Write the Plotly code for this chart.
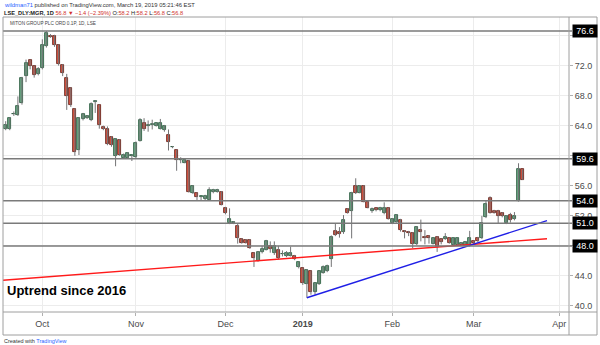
import plotly.graph_objects as go
import pandas as pd

# ---------------- data ----------------
holidays = ['2018-12-25', '2018-12-26', '2019-01-01', '2019-04-19', '2019-04-22']
calendar = [d for d in pd.bdate_range('2018-09-17', '2019-04-30')
            if d.strftime('%Y-%m-%d') not in holidays]

opens = [63.3, 63.5, 63.5, 65.5, 65.4, 67.0, 70.6, 72.7, 71.9, 70.9,
         71.7, 74.6, 76.0, 76.0, 74.7, 72.1, 70.4, 69.0, 66.2, 60.8,
         64.9, 65.0, 64.8, 67.2, 66.7, 63.8, 63.5, 62.5, 60.0, 62.1,
         59.7, 59.7, 60.0, 59.8, 62.0, 64.4, 64.0, 64.1, 64.0, 63.6,
         63.4, 62.8, 61.1, 60.7, 59.4, 59.1, 59.3, 55.0, 55.0, 54.5,
         54.2, 54.1, 55.2, 55.2, 55.2, 53.1, 51.0, 51.0, 50.7, 48.9,
         48.8, 48.8, 47.0, 46.0, 47.2, 47.5, 48.0, 47.0, 47.4, 46.9,
         46.7, 46.7, 46.7, 45.2, 45.0, 42.9, 44.6, 41.8, 42.9, 44.4,
         44.6, 46.2, 50.0, 49.9, 49.8, 52.9, 52.7, 56.0, 55.1, 56.0,
         53.8, 52.6, 53.0, 52.8, 52.4, 53.0, 51.0, 51.2, 51.5, 50.0,
         49.9, 49.7, 48.2, 50.1, 49.2, 49.3, 48.3, 49.2, 48.9, 48.9,
         49.0, 48.1, 48.1, 48.1, 48.0, 48.0, 48.6, 49.1, 49.0, 51.8,
         54.4, 52.7, 52.7, 52.4, 51.0, 52.1, 51.6, 54.0, 58.2]
highs = [63.5, 64.6, 65.1, 65.9, 67.9, 70.5, 72.8, 72.8, 72.0, 71.8,
         75.5, 76.6, 76.2, 76.1, 74.8, 72.2, 70.9, 69.1, 66.3, 65.1,
         65.7, 65.4, 67.1, 67.4, 66.8, 64.0, 63.9, 62.6, 62.3, 62.2,
         60.3, 60.5, 60.1, 61.9, 65.0, 65.0, 64.7, 64.8, 64.4, 64.9,
         64.1, 63.5, 61.3, 60.8, 59.8, 59.7, 59.4, 56.1, 55.1, 54.6,
         54.8, 55.8, 55.6, 55.6, 55.3, 53.2, 53.0, 51.3, 51.0, 49.0,
         48.9, 48.9, 47.1, 47.3, 48.0, 48.8, 48.6, 48.6, 48.0, 47.4,
         47.3, 47.9, 46.8, 45.9, 45.1, 44.9, 44.7, 43.1, 44.7, 45.4,
         45.5, 49.4, 51.0, 50.5, 52.1, 53.0, 55.2, 57.0, 56.1, 56.1,
         53.9, 53.1, 53.1, 53.2, 53.8, 53.1, 51.7, 52.2, 51.6, 50.1,
         50.0, 49.8, 50.6, 51.5, 50.1, 49.4, 49.1, 49.3, 49.0, 49.7,
         49.1, 49.1, 49.1, 48.5, 48.6, 50.0, 48.7, 49.2, 52.0, 54.0,
         54.6, 52.8, 52.8, 52.5, 52.1, 52.4, 52.5, 59.0, 58.2]
lows = [63.1, 63.4, 63.4, 65.3, 65.3, 66.8, 69.8, 71.5, 70.4, 70.7,
        71.5, 74.4, 75.7, 74.5, 72.0, 70.6, 66.1, 66.5, 60.0, 60.1,
        64.7, 64.9, 64.6, 65.7, 63.6, 63.4, 61.4, 61.2, 58.6, 60.0,
        59.6, 59.6, 59.3, 59.7, 61.9, 63.3, 63.2, 63.5, 63.9, 63.5,
        63.2, 60.7, 61.0, 58.0, 59.0, 59.0, 55.1, 54.9, 54.1, 54.1,
        54.1, 54.0, 55.0, 55.1, 53.4, 52.2, 50.9, 50.9, 48.3, 48.3,
        48.3, 47.6, 45.2, 45.9, 47.0, 47.4, 47.1, 46.8, 46.2, 46.6,
        46.5, 46.6, 46.1, 45.0, 42.8, 41.1, 41.5, 41.5, 42.8, 44.3,
        44.5, 45.2, 49.3, 49.1, 49.6, 52.3, 49.0, 54.9, 55.0, 53.8,
        53.0, 52.4, 52.6, 52.6, 52.2, 51.5, 50.9, 51.1, 49.9, 49.0,
        49.3, 47.7, 48.1, 48.6, 48.2, 48.3, 48.2, 47.2, 48.2, 48.8,
        48.3, 48.0, 48.0, 48.0, 47.9, 47.9, 48.2, 48.5, 48.9, 51.7,
        52.3, 52.3, 51.0, 51.8, 50.9, 51.1, 51.4, 53.9, 56.8]
closes = [63.4, 64.1, 65.0, 65.6, 66.6, 70.3, 72.4, 72.0, 70.8, 71.6,
          74.8, 76.3, 75.8, 74.7, 72.2, 71.0, 67.9, 66.8, 60.5, 65.0,
          65.5, 65.3, 66.9, 67.3, 64.1, 63.6, 61.6, 61.4, 62.2, 60.1,
          60.1, 60.4, 60.05, 61.7, 64.7, 63.6, 64.1, 64.1, 64.3, 64.3,
          64.0, 61.8, 61.1, 59.5, 59.5, 59.5, 55.2, 56.0, 54.5, 54.5,
          54.7, 55.5, 55.5, 55.5, 53.5, 52.4, 51.6, 51.2, 49.0, 48.4,
          48.4, 47.7, 46.4, 47.2, 47.6, 48.6, 47.6, 48.0, 46.4, 46.9,
          47.0, 47.0, 46.3, 45.8, 43.0, 44.8, 41.8, 43.0, 44.6, 45.2,
          45.3, 49.2, 49.5, 49.6, 51.5, 52.4, 55.0, 55.0, 56.0, 53.9,
          53.1, 52.9, 52.8, 53.1, 53.0, 51.6, 51.6, 52.1, 50.1, 49.8,
          49.7, 48.2, 50.5, 49.9, 49.0, 49.0, 49.0, 47.8, 48.5, 49.2,
          48.4, 49.0, 49.0, 48.4, 48.5, 49.0, 48.4, 48.6, 51.0, 53.6,
          52.4, 52.4, 52.0, 52.0, 52.0, 51.5, 52.0, 58.2, 56.8]

dates = calendar[:len(opens)]

month_keys = ['2018-10', '2018-11', '2018-12', '2019-01', '2019-02', '2019-03', '2019-04']
month_labels = ['Oct', 'Nov', 'Dec', '<b>2019</b>', 'Feb', 'Mar', 'Apr']

y_ticks = [40, 44, 48, 52, 56, 60, 64, 68, 72, 76]
levels = [76.6, 59.6, 54.0, 51.0, 48.0]

red_trend_dates = ['2018-09-17', '2019-03-27']
red_trend_values = [43.42, 48.96]
blue_trend_dates = ['2019-01-03', '2019-03-27']
blue_trend_values = [41.1, 51.37]

# ---------------- helpers ----------------
cal_str = [d.strftime('%Y-%m-%d') for d in calendar]
def pos_of(date_str):
    return cal_str.index(date_str)

tick_pos = [next(i for i, s in enumerate(cal_str) if s.startswith(k)) for k in month_keys]
xs = list(range(len(dates)))

# labels hidden behind a level box are left blank (their grid line stays)
y_ticktext = ['' if any(abs(v - lv) < 0.6 for lv in levels) else f'{v:.1f}' for v in y_ticks]

UP_FILL, UP_LINE = '#6ba583', '#225437'
DN_FILL, DN_LINE = '#d75442', '#5b1a13'
WICK = '#737375'

# pixel geometry
W, H = 600, 345
L, R, T, B = 3, 31, 17, 33
PW, PH = W - L - R, H - T - B
def px(xp):
    return (xp - L) / PW
def py(yp):
    return (H - B - yp) / PH

fig = go.Figure()

# wicks
wx, wy = [], []
for i in xs:
    wx += [i, i, None]
    wy += [lows[i], highs[i], None]
fig.add_trace(go.Scatter(x=wx, y=wy, mode='lines',
                         line=dict(color=WICK, width=1), hoverinfo='skip',
                         showlegend=False))

# bodies
base = [min(o, c) for o, c in zip(opens, closes)]
height = [max(abs(c - o), 0.08) for o, c in zip(opens, closes)]
fills = [UP_FILL if c >= o else DN_FILL for o, c in zip(opens, closes)]
edges = [UP_LINE if c >= o else DN_LINE for o, c in zip(opens, closes)]
fig.add_trace(go.Bar(x=xs, y=height, base=base, width=0.74,
                     marker=dict(color=fills, line=dict(color=edges, width=0.8)),
                     showlegend=False,
                     customdata=list(zip(opens, highs, lows, closes)),
                     hovertemplate='O %{customdata[0]}<br>H %{customdata[1]}<br>'
                                   'L %{customdata[2]}<br>C %{customdata[3]}<extra></extra>'))

# trend lines
fig.add_trace(go.Scatter(x=[pos_of(d) for d in red_trend_dates], y=red_trend_values,
                         mode='lines', line=dict(color='#ff1a1a', width=1.4),
                         showlegend=False, hoverinfo='skip'))
fig.add_trace(go.Scatter(x=[pos_of(d) for d in blue_trend_dates], y=blue_trend_values,
                         mode='lines', line=dict(color='#1f1fe6', width=1.4),
                         showlegend=False, hoverinfo='skip'))

shapes = []
# horizontal level lines
for v in levels:
    shapes.append(dict(type='line', xref='paper', yref='y', x0=0, x1=px(572), y0=v, y1=v,
                       line=dict(color='#7a7a7a', width=1.5)))
# frame
BOX = '#9e9e9e'
shapes.append(dict(type='rect', xref='paper', yref='paper', x0=0, x1=px(597),
                   y0=py(335), y1=1, line=dict(color=BOX, width=1)))
shapes.append(dict(type='line', xref='paper', yref='paper', x0=1, x1=1,
                   y0=py(335), y1=1, line=dict(color=BOX, width=1)))
shapes.append(dict(type='line', xref='paper', yref='paper', x0=0, x1=px(597),
                   y0=0, y1=0, line=dict(color=BOX, width=1)))

annotations = []
for v in levels:
    annotations.append(dict(xref='paper', yref='y', x=px(572), y=v, xanchor='left',
                            yanchor='middle', text=f'{v:.1f}', showarrow=False,
                            bgcolor='#000000', borderpad=1, width=22, height=10,
                            font=dict(family='Liberation Sans', size=9, color='white')))

annotations += [
    dict(xref='paper', yref='paper', x=px(2), y=py(5), xanchor='left', yanchor='middle',
         showarrow=False,
         text='<span style="color:#2962ff">wildman71</span> published on TradingView.com, March 19, 2019 05:21:46 EST',
         font=dict(family='Liberation Sans', size=5.85, color='#333333')),
    dict(xref='paper', yref='paper', x=px(2), y=py(13), xanchor='left', yanchor='middle',
         showarrow=False,
         text='<b>LSE_DLY:MGR, 1D</b> <span style="color:#d0302a">56.8 ▼ −1.4 (−2.39%)</span> '
              'O:<span style="color:#d0302a">58.2</span> H:<span style="color:#d0302a">58.2</span> '
              'L:<span style="color:#d0302a">56.8</span> C:<span style="color:#d0302a">56.8</span>',
         font=dict(family='Liberation Sans', size=5.65, color='#222222')),
    dict(xref='paper', yref='paper', x=px(8), y=py(24), xanchor='left', yanchor='middle',
         showarrow=False, text='MITON GROUP PLC ORD 0.1P, 1D, LSE',
         font=dict(family='Liberation Sans', size=4.7, color='#444444')),
    dict(xref='paper', yref='paper', x=px(5), y=py(290), xanchor='left', yanchor='middle',
         showarrow=False, text='<b>Uptrend since 2016</b>',
         font=dict(family='Liberation Sans', size=13, color='#000000')),
    dict(xref='paper', yref='paper', x=px(2), y=py(341), xanchor='left', yanchor='middle',
         showarrow=False,
         text='Created with <span style="color:#2962ff">TradingView</span>',
         font=dict(family='Liberation Sans', size=5.5, color='#333333')),
]

fig.update_layout(
    width=W, height=H,
    margin=dict(l=L, r=R, t=T, b=B, autoexpand=False),
    paper_bgcolor='white', plot_bgcolor='white',
    barmode='overlay', bargap=0, showlegend=False,
    shapes=shapes, annotations=annotations,
    xaxis=dict(range=[0.34, 139.4], tickmode='array', tickvals=tick_pos,
               ticktext=month_labels, showgrid=True, gridcolor='#ececec', gridwidth=1,
               zeroline=False, showline=False, ticks='outside', ticklen=3,
               tickcolor='#b0b0b0', ticklabelstandoff=0,
               tickfont=dict(family='Liberation Sans', size=9, color='#4a4a4a'),
               fixedrange=True),
    yaxis=dict(range=[39.2, 78.47], side='right', tickmode='array', tickvals=y_ticks,
               ticktext=y_ticktext, showgrid=True, gridcolor='#ececec', gridwidth=1,
               zeroline=False, showline=False, ticks='outside', ticklen=3,
               tickcolor='#b0b0b0',
               tickfont=dict(family='Liberation Sans', size=9, color='#4a4a4a'),
               fixedrange=True),
)

fig.write_html('out.html')
